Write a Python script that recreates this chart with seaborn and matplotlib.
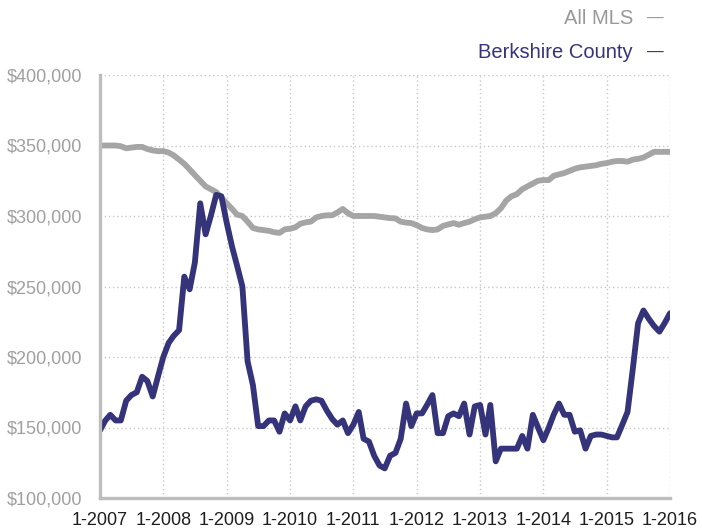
import matplotlib
matplotlib.use("Agg")
import matplotlib.pyplot as plt
import seaborn as sns
import pandas as pd
import numpy as np

# monthly median sale price, 1-2007 .. 1-2016 (in $1000s)
all_mls = [
    350, 350, 350, 350, 349.5, 348, 348.5, 349, 349, 347.5, 346.5, 346,
    346, 345, 343, 340, 337, 333, 329, 325, 321, 319, 317, 313,
    309, 305, 301, 300, 296, 291.5, 290.5, 290, 289.5, 288.5, 288, 290.5,
    291, 292, 294.5, 295.5, 296, 299, 300, 300.5, 300.5, 302.5, 305, 302,
    300, 300, 300, 300, 300, 299.5, 299, 298.5, 298.3, 296, 295.3, 295,
    293.5, 291.5, 290.5, 290, 290.5, 293, 294, 295, 293.8, 295, 296, 297.7,
    299, 299.5, 300, 302, 305.5, 311, 314, 315.5, 319, 321, 323, 325,
    325.5, 325.5, 328.5, 329.5, 330.5, 332, 333.5, 334.5, 335, 335.5, 336, 337,
    337.5, 338.5, 339, 339, 338.5, 340, 340.5, 341.5, 343.5, 345.5, 345.5, 345.5,
    345.5,
]
berkshire = [
    148, 155, 159, 155, 155, 169, 173, 175, 186, 183, 172, 186,
    200, 210, 215, 219, 257, 248, 267, 309, 287, 300, 315, 314,
    295, 278, 265, 250, 197, 180, 151, 151, 155, 155, 147, 160,
    155, 165, 155, 165, 169, 170, 169, 162, 156, 152, 155, 146,
    152, 161, 142, 140, 130, 123, 121, 130, 132, 142, 167, 151,
    160, 160, 166, 173, 146, 146, 158, 160, 158, 167, 145, 165,
    166, 145, 166, 126, 135, 135, 135, 135, 144, 135, 159, 150,
    141, 150, 159, 167, 159, 159, 147, 148, 135, 144, 145, 145,
    144, 143, 143, 152, 161, 192, 224, 233, 227, 222, 218, 224,
    231,
]
months = pd.date_range("2007-01-01", periods=len(all_mls), freq="MS")
years = list(range(2007, 2017))

df = pd.DataFrame({
    "month": np.concatenate([months, months]),
    "price": np.array(all_mls + berkshire) * 1000,
    "series": ["All MLS"] * len(all_mls) + ["Berkshire County"] * len(berkshire),
})

gray = "#a5a5a5"
navy = "#35337a"

sns.set_style("white")
plt.rcParams["font.family"] = ["Liberation Sans", "DejaVu Sans"]

fig = plt.figure(figsize=(7.02, 5.29), dpi=100)
ax = fig.add_axes([100 / 702, 1 - 498 / 529, 570 / 702, 423 / 529])

sns.lineplot(data=df, x="month", y="price", hue="series",
             palette={"All MLS": gray, "Berkshire County": navy},
             linewidth=4.2, legend=False, ax=ax,
             solid_joinstyle="round", solid_capstyle="round")

ax.set_xlim(months[0], months[-1])
ax.set_ylim(100000, 400000)
ax.set_yticks(range(100000, 400001, 50000))
ax.set_yticklabels([f"${v:,}" for v in range(100000, 400001, 50000)],
                   color="#a0a0a0", fontsize=13)
tick_dates = [pd.Timestamp(f"{y}-01-01") for y in years]
ax.set_xticks(tick_dates)
ax.set_xticklabels([f"1-{y}" for y in years], color="#1e1e1e", fontsize=13)
ax.set_xlabel("")
ax.set_ylabel("")

ax.grid(True, color="#c8c8c8", linestyle=(0, (1, 2)), linewidth=1)
ax.set_axisbelow(True)
for s in ["top", "right"]:
    ax.spines[s].set_visible(False)
for s in ["left", "bottom"]:
    ax.spines[s].set_color("#bdbdbd")
    ax.spines[s].set_linewidth(2.4)
ax.tick_params(axis="x", length=5, width=1, color="#bdbdbd", pad=5)
ax.tick_params(axis="y", length=0, pad=13)

# legend as text at the top right
for label, col, ypix in [("All MLS", "#999999", 18), ("Berkshire County", navy, 52)]:
    fig.text(633 / 702, 1 - ypix / 529, label, ha="right", va="center",
             color=col, fontsize=14.5)
    fig.text(655 / 702, 1 - ypix / 529, "—", ha="center", va="center",
             color=col, fontsize=12)

fig.savefig("out.png", dpi=100)
